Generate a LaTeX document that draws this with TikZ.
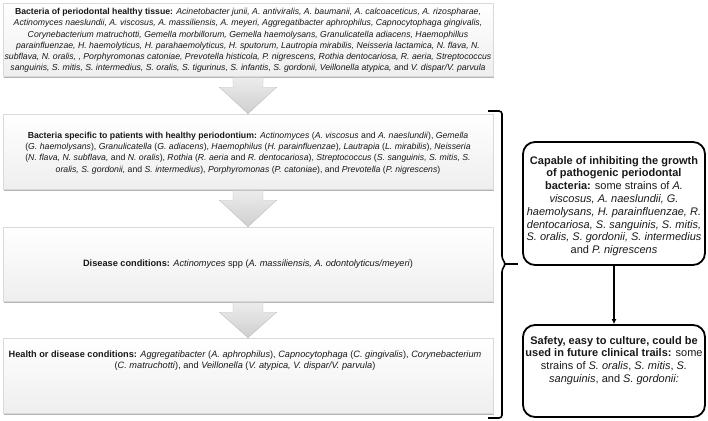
\documentclass[tikz,border=0pt]{standalone}
\usepackage{fontspec}
\setmainfont{Liberation Sans}
\usetikzlibrary{shadows,calc,arrows.meta}
\begin{document}
\begin{tikzpicture}[x=1pt,y=-1pt,
  lbox/.style={draw=gray!30, line width=0.5pt, top color=white, bottom color=gray!13,
    drop shadow={shadow xshift=1pt, shadow yshift=-1.6pt, fill=gray!70, opacity=0.6},
    minimum width=490pt, inner sep=0pt},
  ltext/.style={align=center, font=\fontsize{8.7}{11.2}\selectfont, inner sep=0pt, text=black!90},
  ltextbig/.style={ltext, font=\fontsize{9.2}{11.6}\selectfont},
  rbox/.style={draw=black, line width=1.8pt, rounded corners=12pt, fill=white,
    minimum width=182pt, inner sep=0pt},
  rtext/.style={align=center, font=\fontsize{11}{12.8}\selectfont, inner sep=0pt, text=black!90},
  chev/.style={draw=gray!50, line width=0.4pt, top color=gray!14, bottom color=gray!38},
  bracepath/.style={draw=black, line width=1.6pt},
  link/.style={draw=black, line width=1.5pt, -{Latex[length=5pt,width=5pt]}}
]
\useasboundingbox (0,0) rectangle (708,420);
\newcommand{\chevarrow}[2]{%
  \path[chev] ($(#1.south)+(-15,0)$) -- ($(#1.south)+(15,0)$) -- ($(#1.south)+(15,11)$)
    -- ($(#1.south)+(28.5,11)$) -- (#2.north) -- ($(#1.south)+(-28.5,11)$)
    -- ($(#1.south)+(-15,11)$) -- cycle;}
% left boxes
\node[lbox, minimum height=73pt] (b1) at (248,39.5) {};
\node[lbox, minimum height=75pt] (b2) at (248,151.5) {};
\node[lbox, minimum height=74pt] (b3) at (248,264) {};
\node[lbox, minimum height=75pt] (b4) at (248,375.5) {};
\chevarrow{b1}{b2}
\chevarrow{b2}{b3}
\chevarrow{b3}{b4}
\node[lbox, minimum height=73pt] (b1) at (248,39.5) {};
\node[lbox, minimum height=75pt] (b2) at (248,151.5) {};
\node[lbox, minimum height=74pt] (b3) at (248,264) {};
\node[lbox, minimum height=75pt] (b4) at (248,375.5) {};
\node[ltext] (t1) at (248,40.5) {\textbf{Bacteria of periodontal healthy tissue:} \textit{Acinetobacter junii, A. antiviralis, A. baumanii, A. calcoaceticus, A. rizospharae,}\\
\textit{Actinomyces naeslundii, A. viscosus, A. massiliensis, A. meyeri, Aggregatibacter aphrophilus, Capnocytophaga gingivalis,}\\
\textit{Corynebacterium matruchotti, Gemella morbillorum, Gemella haemolysans, Granulicatella adiacens, Haemophillus}\\
\textit{parainfluenzae, H. haemolyticus, H. parahaemolyticus, H. sputorum, Lautropia mirabilis, Neisseria lactamica, N. flava, N.}\\
\textit{subflava, N. oralis, , Porphyromonas catoniae, Prevotella histicola, P. nigrescens, Rothia dentocariosa, R. aeria, Streptococcus}\\
\textit{sanguinis, S. mitis, S. intermedius, S. oralis, S. tigurinus, S. infantis, S. gordonii, Veillonella atypica,} and \textit{V. dispar/V. parvula}};
\node[ltext] (t2) at (248,153) {\textbf{Bacteria specific to patients with healthy periodontium:} \textit{Actinomyces} (\textit{A. viscosus} and \textit{A. naeslundii}), \textit{Gemella}\\
(\textit{G. haemolysans}), \textit{Granulicatella} (\textit{G. adiacens}), \textit{Haemophilus} (\textit{H. parainfluenzae}), \textit{Lautrapia} (\textit{L. mirabilis}), \textit{Neisseria}\\
(\textit{N. flava, N. subflava,} and \textit{N. oralis}), \textit{Rothia} (\textit{R. aeria} and \textit{R. dentocariosa}), \textit{Streptococcus} (\textit{S. sanguinis, S. mitis, S.}\\
\textit{oralis, S. gordonii,} and \textit{S. intermedius}), \textit{Porphyromonas} (\textit{P. catoniae}), and \textit{Prevotella} (\textit{P. nigrescens})};
\node[ltextbig] (t3) at (248,264) {\textbf{Disease conditions:} \textit{Actinomyces} spp (\textit{A. massiliensis, A. odontolyticus/meyeri})};
\node[ltextbig] (t4) at (245,360.5) {\textbf{Health or disease conditions:} \textit{Aggregatibacter} (\textit{A. aphrophilus}), \textit{Capnocytophaga} (\textit{C. gingivalis}), \textit{Corynebacterium}\\
(\textit{C. matruchotti}), and \textit{Veillonella} (\textit{V. atypica, V. dispar/V. parvula})};
% brace
\coordinate (brtip) at (518,264);
\draw[bracepath, rounded corners=3pt] (488,111) -- (502,111) -- (502,259) -- (506,264) -- (502,269) -- (502,418) -- (488,418);
\draw[bracepath] (505,264) -- (brtip);
% right boxes
\node[rbox, minimum height=123pt] (rA) at (614,203.5) {};
\node[rtext] (tA) at (614,206) {\textbf{Capable of inhibiting the growth}\\
\textbf{of pathogenic periodontal}\\
\textbf{bacteria:} some strains of \textit{A.}\\
\textit{viscosus, A. naeslundii, G.}\\
\textit{haemolysans, H. parainfluenzae, R.}\\
\textit{dentocariosa, S. sanguinis, S. mitis,}\\
\textit{S. oralis, S. gordonii, S. intermedius}\\
and \textit{P. nigrescens}};
\node[rbox, minimum height=92pt] (rB) at (614,371) {};
\node[rtext] (tB) at (614,360.5) {\textbf{Safety, easy to culture, could be}\\
\textbf{used in future clinical trails:} some\\
strains of \textit{S. oralis}, \textit{S. mitis}, \textit{S.}\\
\textit{sanguinis}, and \textit{S. gordonii:}};
\draw[link] (rA) -- (rB);
\end{tikzpicture}
\end{document}
